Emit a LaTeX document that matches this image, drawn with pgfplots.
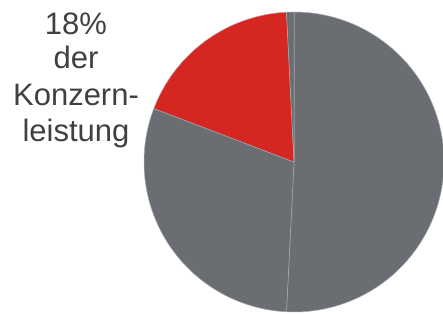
\documentclass[border=0pt]{standalone}
\usepackage{pgfplots}
\usepackage{pgfplotstable}
\pgfplotsset{compat=1.18}
\usepackage{fontspec}
\setmainfont{Liberation Sans}
\definecolor{piegray}{HTML}{6A6D71}
\definecolor{piered}{HTML}{D52622}
\definecolor{sepcol}{HTML}{A8ABAE}
\definecolor{txtcol}{HTML}{404040}
% shares in percent, clockwise from 12 o'clock
\pgfplotstableread{
share col
50.8  piegray
30.0  piegray
18.4  piered
0.8   piegray
}\pie
\begin{document}
\begin{tikzpicture}
\begin{axis}[name=ax, hide axis, scale only axis, width=443pt, height=313pt,
  xmin=0, xmax=443, ymin=0, ymax=313, clip=true]
\gdef\cum{0}
\pgfplotsinvokeforeach{0,1,2,3}{
  \pgfplotstablegetelem{#1}{share}\of\pie
  \let\sh\pgfplotsretval
  \pgfplotstablegetelem{#1}{col}\of\pie
  \let\sc\pgfplotsretval
  \pgfmathsetmacro\sa{90-3.6*\cum}
  \pgfmathsetmacro\cumnew{\cum+\sh}
  \pgfmathsetmacro\sb{90-3.6*\cumnew}
  \global\let\cum\cumnew
  \edef\cmd{\noexpand\fill[\sc, draw=sepcol, line width=0.5pt] (axis cs:294,151) -- ++(\sa:150pt) arc[start angle=\sa, end angle=\sb, radius=150pt] -- cycle;}
  \cmd
}
\node[anchor=base, text=txtcol, font=\fontsize{31}{36}\selectfont] at (axis cs:76,278) {18\%};
\node[anchor=base, text=txtcol, font=\fontsize{31}{36}\selectfont] at (axis cs:76,244) {der};
\node[anchor=base, text=txtcol, font=\fontsize{31}{36}\selectfont] at (axis cs:76,207) {Konzern-};
\node[anchor=base, text=txtcol, font=\fontsize{31}{36}\selectfont] at (axis cs:76,171) {leistung};
\end{axis}
\pgfresetboundingbox
\path[use as bounding box] (ax.south west) rectangle (ax.north east);
\end{tikzpicture}
\end{document}
